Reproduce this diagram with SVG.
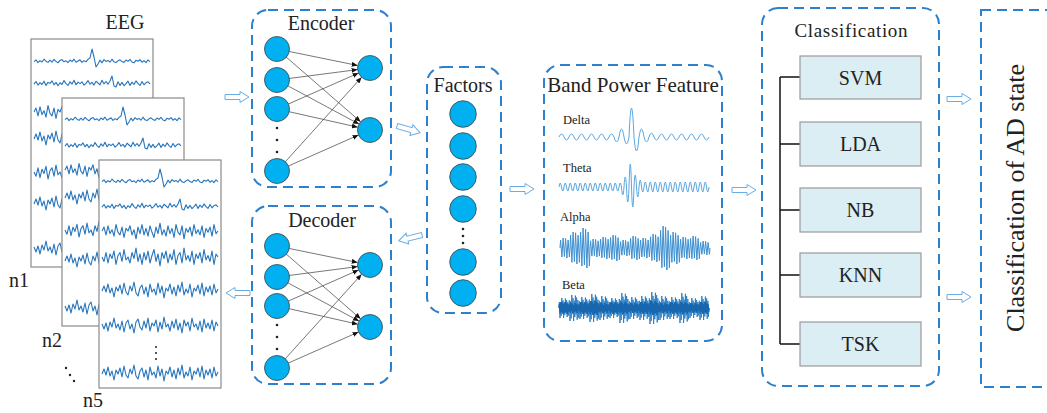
<svg xmlns="http://www.w3.org/2000/svg" width="1047" height="413" viewBox="0 0 1047 413" font-family="'Liberation Serif', 'Times New Roman', serif">
<style>
text{font-family:"Liberation Serif","Times New Roman",serif;fill:#222}
.dash{fill:none;stroke:#2e7fcc;stroke-width:2;stroke-dasharray:10 6}
.panel{fill:#fff;stroke:#8a8a8a;stroke-width:1.2}
.eeg{fill:none;stroke:#2574bc;stroke-width:1.1;stroke-linejoin:round;vector-effect:non-scaling-stroke}
.wave{fill:none;stroke:#5aa7e0;stroke-width:1}
.alpha{fill:none;stroke:#3d8fd1;stroke-width:1;vector-effect:non-scaling-stroke}
.beta{fill:none;stroke:#2f82c8;stroke-width:1;vector-effect:non-scaling-stroke}
.betac{fill:none;stroke:#1866ad;stroke-width:1.6;vector-effect:non-scaling-stroke}
.node{fill:#00b0f0;stroke:#404040;stroke-width:0.8}
.link{stroke:#555;stroke-width:0.8;marker-end:url(#ah)}
.dot{fill:#222}
.cls{fill:#dbeef4;stroke:#9a9a9a;stroke-width:1.2}
.br{fill:none;stroke:#111;stroke-width:1.5}
.ha{fill:#fff;stroke:#6aaee6;stroke-width:1}
</style>
<defs>
<marker id="ah" markerUnits="userSpaceOnUse" markerWidth="6" markerHeight="5" refX="6" refY="2.5" orient="auto"><path d="M0,0 L6,2.5 L0,5 Z" fill="#111"/></marker>
<path id="ha" d="M0,-2.5 H15 V-5.5 L24,0 L15,5.5 V2.5 H0 Z"/>
<path id="wA" class="eeg" d="M0,0.6 L2,-1.2 4,1.6 6,-0.4 8,1 10,-1.8 12,0.2 14,1.4 16,-0.8 18,1.2 20,-1.6 22,0.4 24,1.8 26,-0.6 28,-1.4 30,0.8 32,-0.2 34,1.6 36,-1 38,0.6 40,-1.8 42,1.2 44,0 46,-1.2 48,1.4 50,-0.4 52,0.8 54,-1.6 56,-3 58,-12 60,-4 62,6 64,3 66,-0.8 68,1.8 70,-1.4 72,0.4 74,-0.6 76,1.2 78,-1.8 80,0.8 82,1.6 84,-0.2 86,-1.2 88,0.6 90,1.4 92,-1 94,0.4 96,-1.6 98,1 100,1.8 102,-0.8 104,0.2 106,-1.4 108,1.2 110,-0.4 112,1.6 114,-1.2 116,0.6"/>
<path id="wB" class="eeg" d="M0,1.2 L2,-1.5 4,2.1 6,-0.3 8,1.5 10,-1.8 12,2.4 14,-0.6 16,0.3 18,-2.1 20,1.8 22,-0.6 24,2.7 26,-0.3 28,1.5 30,-2.4 32,0.6 34,2.4 36,-1.2 38,1.2 40,-2.7 42,1.8 44,-0.9 46,0.6 48,-1.2 50,2.1 52,0.3 54,-2.4 56,1.2 58,-0.6 60,2.1 62,-1.8 64,0 66,1.8 68,-2.7 70,0.9 72,-1.5 74,1.2 76,-2 78,-7 80,3 82,4 84,-1.2 86,2.4 88,-0.6 90,2.7 92,0.6 94,-1.8 96,2.4 98,-0.9 100,1.5 102,-2.1 104,0.6 106,2.4 108,-1.5 110,1.8 112,-0.3 114,-1.2 116,0.9"/>
<path id="wC" class="eeg" d="M0,0 L2,-3 4,3 6,-4 8,2 10,-1 12,4 14,-5 16,1 18,3 20,-3 22,5 24,-2 26,0 28,-4 30,3 32,-1 34,6 36,-3 38,2 40,-5 42,3 44,-2 46,4 48,-4 50,1 52,5 54,-3 56,2 58,-6 60,3 62,-1 64,4 66,-4 68,2 70,-2 72,5 74,-5 76,1 78,3 80,-4 82,6 84,-2 86,1 88,-3 90,4 92,-5 94,2 96,-1 98,3 100,-4 102,5 104,-2 106,1 108,-3 110,4 112,-5 114,2 116,0"/>
<path id="wD" class="eeg" d="M0,1 L2,-4 4,2 6,-6 8,3 10,-2 12,7 14,-3 16,1 18,-5 20,4 22,-7 24,2 26,5 28,-4 30,1 32,-8 34,3 36,6 38,-2 40,-5 42,4 44,-3 46,7 48,-6 50,2 52,-1 54,5 56,-7 58,3 60,-4 62,8 64,-2 66,1 68,-6 70,4 72,-3 74,6 76,-5 78,2 80,-8 82,5 84,-1 86,3 88,-6 90,7 92,-2 94,1 96,-5 98,4 100,-7 102,6 104,-3 106,2 108,-4 110,5 112,-6 114,3 116,-1"/>
<path id="zz" class="alpha" d="M0,0 L0.6,-0.8 1.9,0.9 3.1,-1 4.4,0.85 5.6,-0.95 6.9,1 8.1,-0.8 9.4,0.9 10,0"/>
<path id="zz2" class="beta" d="M0,0 L0.35,-0.6 1,1 1.6,-0.5 2.2,0.8 2.8,-1 3.4,0.45 4,-0.75 4.6,1 5.2,-0.55 5.8,0.7 6.4,-0.95 7,0.5 7.6,-0.8 8.2,0.9 8.8,-0.6 9.4,0.75 10,0"/>
<path id="zz3" class="betac" d="M0,0 L0.5,-0.7 1.2,0.9 1.9,-1 2.6,0.6 3.3,-0.9 4,1 4.7,-0.6 5.4,0.8 6.1,-1 6.8,0.7 7.5,-0.8 8.2,1 8.9,-0.7 9.6,0.6 10,0"/>
<g id="net">
<line class="link" x1="288.8" y1="51.4" x2="357.7" y2="65.5"/>
<line class="link" x1="286" y1="56.9" x2="360.6" y2="121.8"/>
<line class="link" x1="288.9" y1="78.5" x2="357.6" y2="69.6"/>
<line class="link" x1="287.6" y1="85.7" x2="359" y2="124.1"/>
<line class="link" x1="288" y1="104.2" x2="358.6" y2="73"/>
<line class="link" x1="288.7" y1="111.6" x2="357.8" y2="127.2"/>
<line class="link" x1="285" y1="162.1" x2="361.6" y2="77.3"/>
<line class="link" x1="288" y1="166.2" x2="358.6" y2="135"/>
<circle class="node" cx="277" cy="49" r="12.5"/>
<circle class="node" cx="277" cy="80" r="12.5"/>
<circle class="node" cx="277" cy="109" r="12.5"/>
<circle class="node" cx="277" cy="171" r="12.5"/>
<circle class="node" cx="370" cy="68" r="12.5"/>
<circle class="node" cx="370" cy="130" r="12.5"/>
<circle class="dot" cx="277" cy="128" r="1.3"/>
<circle class="dot" cx="277" cy="140" r="1.3"/>
<circle class="dot" cx="277" cy="152" r="1.3"/>
</g>
</defs>

<g id="eeg">
<text x="125" y="29" font-size="20" text-anchor="middle">EEG</text>
<rect class="panel" x="31" y="39" width="122" height="228"/>
<use href="#wA" x="34" y="61"/>
<use href="#wB" x="34" y="83"/>
<use href="#wC" transform="translate(34,112) scale(1,1.3)"/>
<use href="#wD" x="34" y="138"/>
<use href="#wC" transform="translate(34,172) scale(1,-1.4)"/>
<use href="#wD" x="34" y="203"/>
<use href="#wD" transform="translate(34,248) scale(1,-1)"/>
<rect class="panel" x="62" y="98" width="122" height="228"/>
<use href="#wA" x="65" y="119"/>
<use href="#wB" x="65" y="145"/>
<use href="#wC" transform="translate(65,170) scale(1,1.3)"/>
<use href="#wD" x="65" y="197"/>
<use href="#wC" transform="translate(65,230) scale(1,-1.4)"/>
<use href="#wD" x="65" y="260"/>
<use href="#wD" transform="translate(65,307) scale(1,-1)"/>
<rect class="panel" x="99" y="160" width="122" height="228"/>
<use href="#wA" x="102" y="181"/>
<use href="#wB" x="102" y="206"/>
<use href="#wC" transform="translate(102,231) scale(1,1.3)"/>
<use href="#wC" transform="translate(102,257) scale(1,-1.5)"/>
<use href="#wD" x="102" y="290"/>
<use href="#wD" transform="translate(102,325) scale(1,-1)"/>
<use href="#wD" x="102" y="373"/>
<circle class="dot" cx="156" cy="347" r="1"/>
<circle class="dot" cx="156" cy="353" r="1"/>
<circle class="dot" cx="156" cy="359" r="1"/>
<text x="9" y="287" font-size="20">n1</text>
<text x="42" y="347" font-size="20">n2</text>
<text x="83" y="407" font-size="20">n5</text>
<circle class="dot" cx="66" cy="368" r="1.2"/>
<circle class="dot" cx="70" cy="375" r="1.2"/>
<circle class="dot" cx="74" cy="381" r="1.2"/>
</g>

<g id="encoder">
<rect class="dash" x="252" y="10" width="139" height="177" rx="16"/>
<text x="321" y="30" font-size="20" text-anchor="middle">Encoder</text>
<use href="#net"/>
</g>

<g id="decoder">
<rect class="dash" x="252" y="206" width="139" height="178" rx="16"/>
<text x="322" y="227" font-size="20" text-anchor="middle">Decoder</text>
<use href="#net" transform="translate(0,197)"/>
</g>

<g id="factors">
<rect class="dash" x="427" y="67" width="74" height="246" rx="16"/>
<text x="463" y="92" font-size="20" text-anchor="middle">Factors</text>
<circle class="node" cx="463" cy="114" r="13.3"/>
<circle class="node" cx="463" cy="146" r="13.3"/>
<circle class="node" cx="463" cy="177" r="13.3"/>
<circle class="node" cx="463" cy="209" r="13.3"/>
<circle class="dot" cx="463" cy="229" r="1.3"/>
<circle class="dot" cx="463" cy="236" r="1.3"/>
<circle class="dot" cx="463" cy="243" r="1.3"/>
<circle class="node" cx="463" cy="262" r="13.3"/>
<circle class="node" cx="463" cy="293" r="13.3"/>
</g>

<g id="band">
<rect class="dash" x="544" y="65" width="178" height="276" rx="16"/>
<text x="633" y="92" font-size="21" text-anchor="middle">Band Power Feature</text>
<text x="563" y="124" font-size="12.5">Delta</text>
<path class="wave" d="M559,137 q2.5,-6 5,0 t5,0 t5,0 t5,0 t5,0 t5,0 t5,0 t5,0 t5,0 t5,0 t5,0 q2.5,10 5,0 q2.5,-16 5,0 q2.5,14 5,0 q2.5,-58 5,0 q2.5,28 5,0 q2.5,-16 5,0 q2.5,10 5,0 q2.5,-8 5,0 q2.5,6 5,0 t5,0 t5,0 t5,0 t5,0 t5,0 t5,0 t5,0 t5,0 t5,0 t5,0"/>
<text x="563" y="172" font-size="12.5">Theta</text>
<path class="wave" d="M559,187 q1.25,-8 2.5,0 t2.5,0 t2.5,0 t2.5,0 t2.5,0 t2.5,0 t2.5,0 t2.5,0 t2.5,0 t2.5,0 t2.5,0 t2.5,0 t2.5,0 t2.5,0 t2.5,0 t2.5,0 t2.5,0 t2.5,0 t2.5,0 t2.5,0 t2.5,0 t2.5,0 t2.5,0 t2.5,0 t2.5,0 q1.25,16 2.5,0 q1.25,-20 2.5,0 q1.25,30 2.5,0 q1.25,-46 2.5,0 q1.25,40 2.5,0 q1.25,-24 2.5,0 q1.25,20 2.5,0 q1.25,-14 2.5,0 q1.25,10 2.5,0 t2.5,0 t2.5,0 t2.5,0 t2.5,0 t2.5,0 t2.5,0 t2.5,0 t2.5,0 t2.5,0 t2.5,0 t2.5,0 t2.5,0 t2.5,0 t2.5,0 t2.5,0 t2.5,0 t2.5,0 t2.5,0 t2.5,0 t2.5,0 t2.5,0 t2.5,0 t2.5,0 t2.5,0 t2.5,0 t2.5,0"/>
<text x="560" y="221" font-size="12.5">Alpha</text>
<use href="#zz" transform="translate(560,248) scale(1,10)"/>
<use href="#zz" transform="translate(570,248) scale(1,16)"/>
<use href="#zz" transform="translate(580,248) scale(1,20)"/>
<use href="#zz" transform="translate(590,248) scale(1,9)"/>
<use href="#zz" transform="translate(600,248) scale(1,11)"/>
<use href="#zz" transform="translate(610,248) scale(1,13)"/>
<use href="#zz" transform="translate(620,248) scale(1,8)"/>
<use href="#zz" transform="translate(630,248) scale(1,12)"/>
<use href="#zz" transform="translate(640,248) scale(1,10)"/>
<use href="#zz" transform="translate(650,248) scale(1,14)"/>
<use href="#zz" transform="translate(660,248) scale(1,22)"/>
<use href="#zz" transform="translate(670,248) scale(1,16)"/>
<use href="#zz" transform="translate(680,248) scale(1,11)"/>
<use href="#zz" transform="translate(690,248) scale(1,12)"/>
<use href="#zz" transform="translate(700,248) scale(1,7)"/>
<text x="562" y="289" font-size="12.5">Beta</text>
<use href="#zz2" transform="translate(559,308) scale(1,10)"/>
<use href="#zz2" transform="translate(569,308) scale(1,13)"/>
<use href="#zz2" transform="translate(579,308) scale(1,11)"/>
<use href="#zz2" transform="translate(589,308) scale(1,14)"/>
<use href="#zz2" transform="translate(599,308) scale(1,12)"/>
<use href="#zz2" transform="translate(609,308) scale(1,10)"/>
<use href="#zz2" transform="translate(619,308) scale(1,15)"/>
<use href="#zz2" transform="translate(629,308) scale(1,11)"/>
<use href="#zz2" transform="translate(639,308) scale(1,12)"/>
<use href="#zz2" transform="translate(649,308) scale(1,16)"/>
<use href="#zz2" transform="translate(659,308) scale(1,12)"/>
<use href="#zz2" transform="translate(669,308) scale(1,11)"/>
<use href="#zz2" transform="translate(679,308) scale(1,15)"/>
<use href="#zz2" transform="translate(689,308) scale(1,10)"/>
<use href="#zz2" transform="translate(699,308) scale(1,12)"/>
<use href="#zz3" transform="translate(559,308) scale(1,6)"/>
<use href="#zz3" transform="translate(569,308) scale(1,5)"/>
<use href="#zz3" transform="translate(579,308) scale(1,6)"/>
<use href="#zz3" transform="translate(589,308) scale(1,7)"/>
<use href="#zz3" transform="translate(599,308) scale(1,5)"/>
<use href="#zz3" transform="translate(609,308) scale(1,6)"/>
<use href="#zz3" transform="translate(619,308) scale(1,6)"/>
<use href="#zz3" transform="translate(629,308) scale(1,5)"/>
<use href="#zz3" transform="translate(639,308) scale(1,6)"/>
<use href="#zz3" transform="translate(649,308) scale(1,7)"/>
<use href="#zz3" transform="translate(659,308) scale(1,5)"/>
<use href="#zz3" transform="translate(669,308) scale(1,6)"/>
<use href="#zz3" transform="translate(679,308) scale(1,6)"/>
<use href="#zz3" transform="translate(689,308) scale(1,5)"/>
<use href="#zz3" transform="translate(699,308) scale(1,6)"/>
</g>

<g id="classification">
<rect class="dash" x="762" y="8" width="177" height="378" rx="16"/>
<text x="851" y="37" font-size="19" text-anchor="middle" textLength="113" lengthAdjust="spacing">Classification</text>
<path class="br" d="M780,77 V344 M780,77 H800 M780,144 H800 M780,210 H800 M780,275 H800 M780,344 H800"/>
<rect class="cls" x="800" y="56" width="121" height="43"/>
<text x="860.5" y="84.5" font-size="20" text-anchor="middle">SVM</text>
<rect class="cls" x="800" y="122" width="121" height="44"/>
<text x="860.5" y="151" font-size="20" text-anchor="middle">LDA</text>
<rect class="cls" x="800" y="188" width="121" height="44"/>
<text x="860.5" y="217" font-size="20" text-anchor="middle">NB</text>
<rect class="cls" x="800" y="253" width="121" height="44"/>
<text x="860.5" y="282" font-size="20" text-anchor="middle">KNN</text>
<rect class="cls" x="800" y="322" width="121" height="44"/>
<text x="860.5" y="351" font-size="20" text-anchor="middle">TSK</text>
</g>

<g id="ad-state">
<rect class="dash" x="981" y="10" width="90" height="377"/>
<text transform="translate(1024,198) rotate(-90)" font-size="26" text-anchor="middle">Classification of AD state</text>
</g>

<g id="connectors">
<use href="#ha" class="ha" transform="translate(225,97)"/>
<use href="#ha" class="ha" transform="translate(250,293) scale(-1,1)"/>
<use href="#ha" class="ha" transform="translate(397,126) rotate(16)"/>
<use href="#ha" class="ha" transform="translate(422,235) rotate(166)"/>
<use href="#ha" class="ha" transform="translate(510,189)"/>
<use href="#ha" class="ha" transform="translate(732,190)"/>
<use href="#ha" class="ha" transform="translate(947,99)"/>
<use href="#ha" class="ha" transform="translate(947,297)"/>
</g>
</svg>
